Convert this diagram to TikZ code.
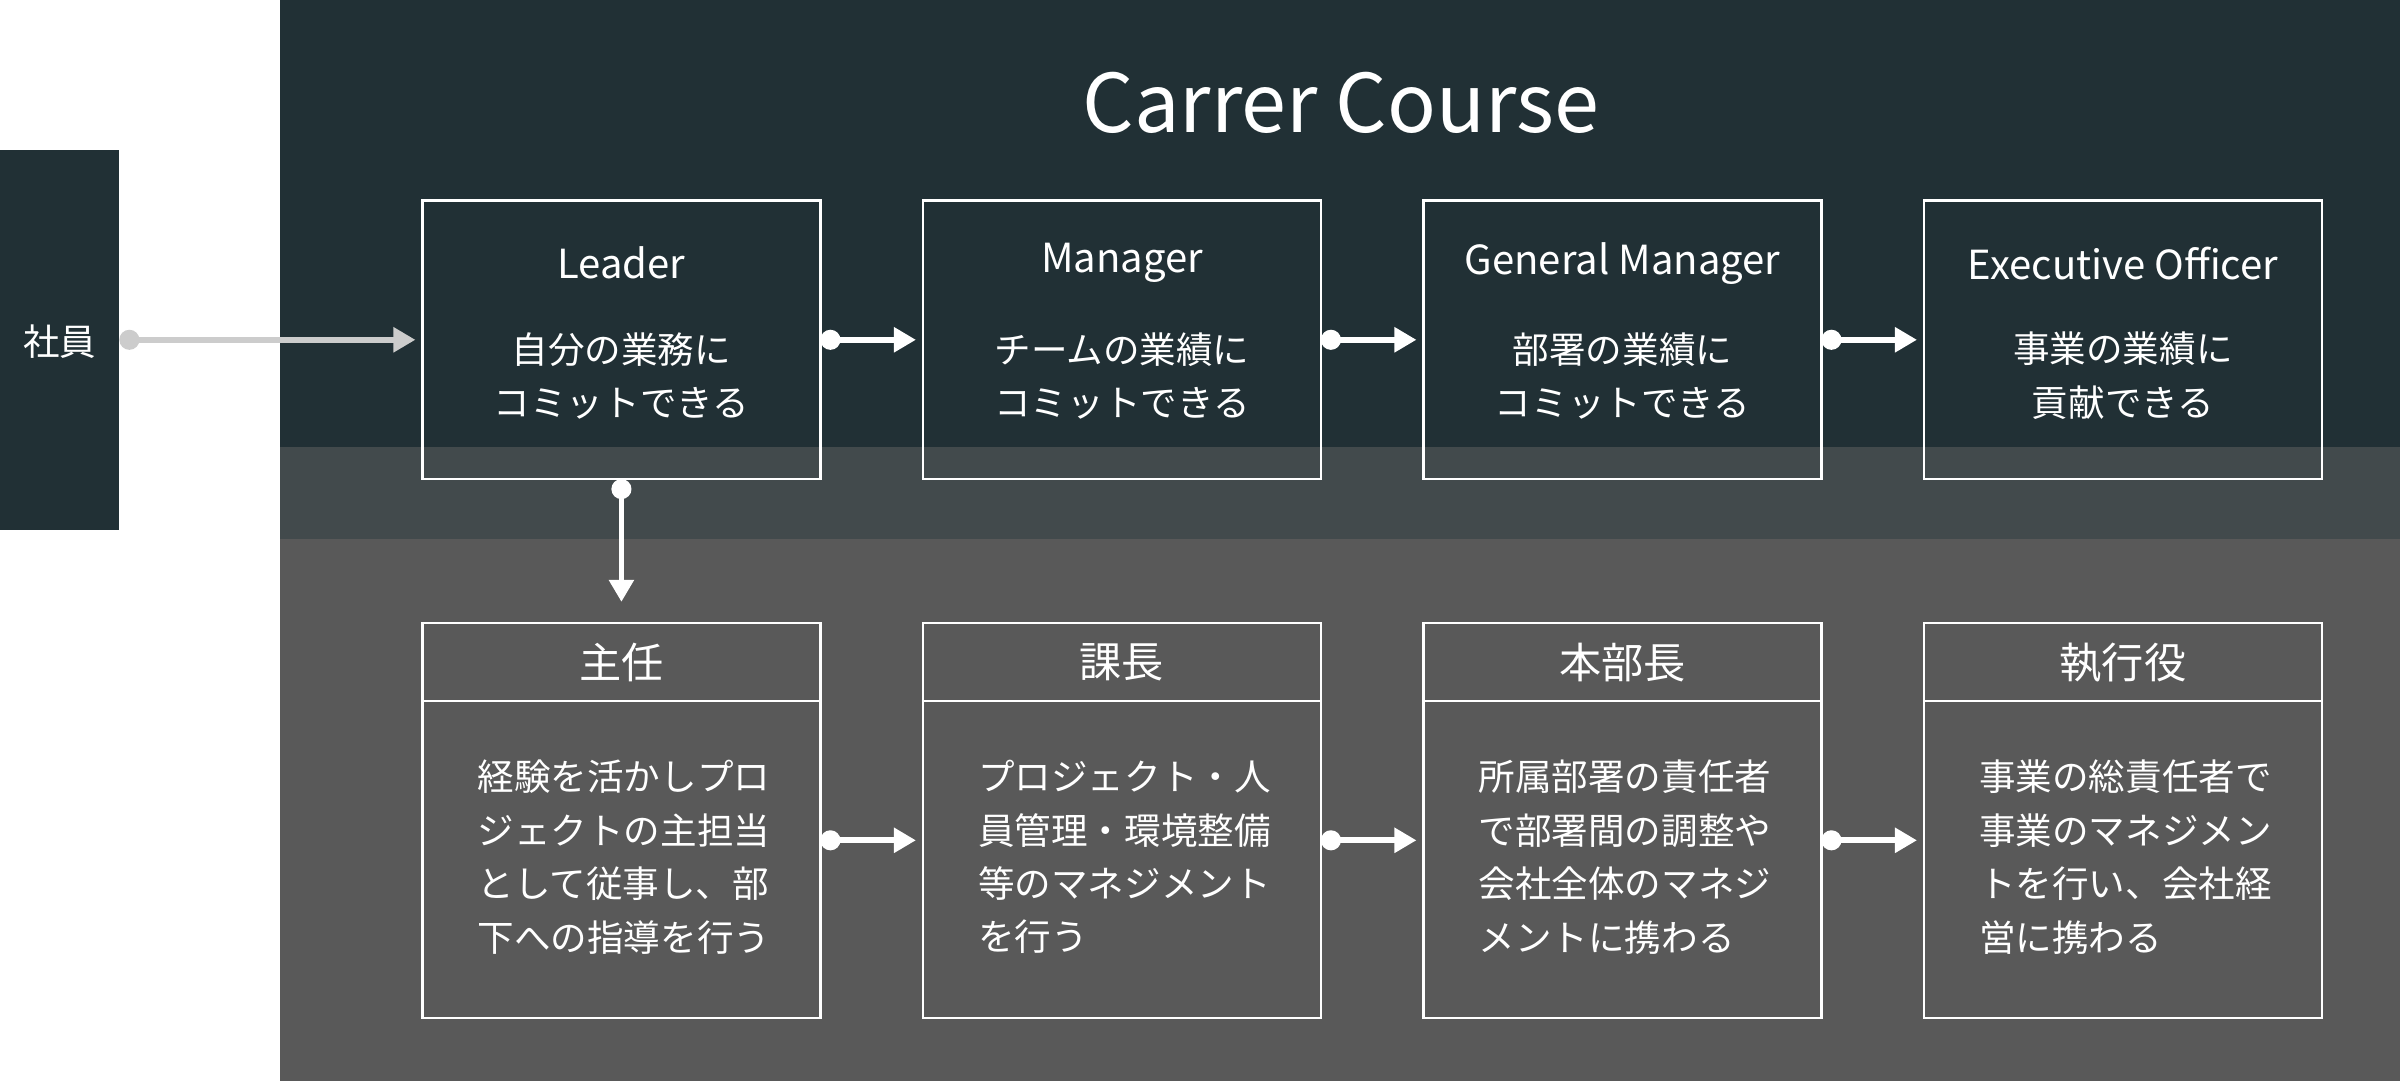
\documentclass[tikz,border=0pt]{standalone}
\usepackage{fontspec}
\setmainfont{Noto Sans CJK JP}
\usetikzlibrary{arrows.meta}
\definecolor{dk}{HTML}{213035}
\definecolor{md}{HTML}{424A4C}
\definecolor{lo}{HTML}{595959}
\definecolor{gl}{HTML}{CCCCCC}
\begin{document}
\begin{tikzpicture}[x=0.015306cm,y=-0.015306cm,
  box/.style={draw=white,line width=0.7pt,minimum width=260*0.015306cm,inner sep=0pt},
  txt/.style={text=white,font=\fontsize{10.4}{15.2}\selectfont},
  hd/.style={text=white,font=\fontsize{11.4}{14}\selectfont},
  arr/.style={white,line width=1.6pt,{Circle[length=0.2cm]}-{Triangle[length=0.22cm,width=0.24cm]}}]
\useasboundingbox (0,0) rectangle (1568,706);
\fill[dk] (183,0) rectangle (1568,292);
\fill[md] (183,292) rectangle (1568,352);
\fill[lo] (183,352) rectangle (1568,706);
\fill[dk] (0,98) rectangle (78,346);
\node[txt] (sha) at (39,223) {社\\員};
\coordinate (shaR) at (78,222);
\node[text=white,font=\fontsize{23}{28}\selectfont] (title) at (876,67) {Carrer Course};
\foreach \i/\x/\t/\a/\b in {1/276/Leader/自分の業務に/コミットできる,
  2/603/Manager/チームの業績に/コミットできる,
  3/930/General Manager/部署の業績に/コミットできる,
  4/1257/Executive Officer/事業の業績に/貢献できる}{
  \draw[white,line width=0.7pt] (\x,131) rectangle (\x+260,313);
  \coordinate (t\i W) at (\x,222);
  \coordinate (t\i E) at (\x+260,222);
  \coordinate (t\i S) at (\x+130,313);
  \node[hd] (th\i) at (\x+130,172) {\t};
  \node[txt,align=center] (tb\i) at (\x+130,245.5) {\a\\\b};
}
\foreach \i/\x/\t/\body in {1/276/主任/{経験を活かしプロ\\ジェクトの主担当\\として従事し、部\\下への指導を行う},
  2/603/課長/{プロジェクト・人\\員管理・環境整備\\等のマネジメント\\を行う},
  3/930/本部長/{所属部署の責任者\\で部署間の調整や\\会社全体のマネジ\\メントに携わる},
  4/1257/執行役/{事業の総責任者で\\事業のマネジメン\\トを行い、会社経\\営に携わる}}{
  \draw[white,line width=0.7pt] (\x,407) rectangle (\x+260,665);
  \draw[white,line width=0.7pt] (\x,458) -- (\x+260,458);
  \coordinate (b\i W) at (\x,549);
  \coordinate (b\i E) at (\x+260,549);
  \coordinate (b\i N) at (\x+130,407);
  \node[hd,font=\fontsize{12}{14}\selectfont] (bh\i) at (\x+130,433) {\t};
  \node[txt,align=left,anchor=west] (bb\i) at (\x+28,560) {\body};
}
\draw[gl,line width=1.6pt,{Circle[length=0.2cm]}-{Triangle[length=0.22cm,width=0.24cm]}] (shaR) -- ([xshift=-2]t1W);
\draw[arr] (t1E) -- ([xshift=-2]t2W);
\draw[arr] (t2E) -- ([xshift=-2]t3W);
\draw[arr] (t3E) -- ([xshift=-2]t4W);
\draw[arr] (t1S) -- ([yshift=6]b1N);
\draw[arr] (b1E) -- ([xshift=-2]b2W);
\draw[arr] (b2E) -- ([xshift=-2]b3W);
\draw[arr] (b3E) -- ([xshift=-2]b4W);
\end{tikzpicture}
\end{document}
